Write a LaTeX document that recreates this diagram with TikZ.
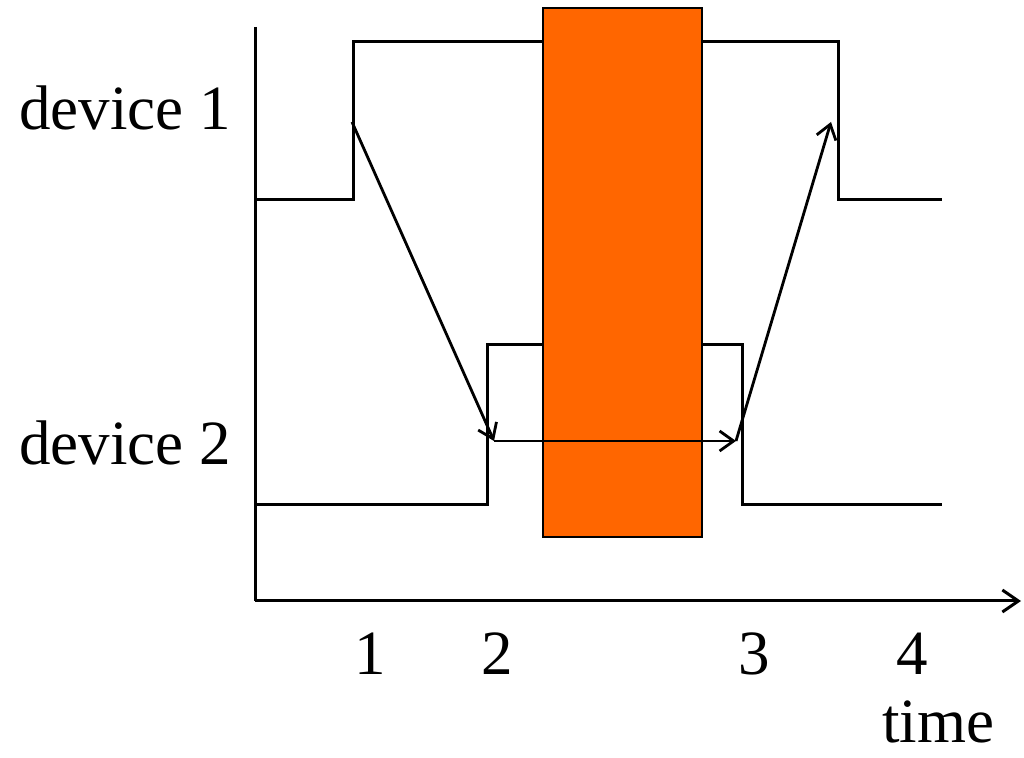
\documentclass[tikz,border=0pt]{standalone}
\usepackage{fontspec}
\setmainfont{Liberation Serif}
\usetikzlibrary{arrows.meta}
\definecolor{busyorange}{RGB}{255,102,0}
\tikzset{
  signal/.style={line width=1.5pt},
  axis/.style={line width=1.5pt, -{Straight Barb[length=8pt, width=11pt, line width=1.5pt]}},
  msg/.style={line width=1.4pt, -{Straight Barb[length=7pt, width=10pt, line width=1.4pt]}},
  busy/.style={draw, line width=1pt, fill=busyorange},
  lbl/.style={anchor=base, inner sep=0pt, font=\fontsize{31.5}{36}\selectfont},
}

\begin{document}
\begin{tikzpicture}[x=0.5pt, y=-0.5pt]
  \useasboundingbox (0,0) rectangle (1024,758);
  % axes
  \coordinate (origin) at (255,601);
  \coordinate (ytop) at (255,27);
  \coordinate (xend) at (1021,601);
  \draw[signal] (ytop) -- (origin);
  \draw[axis] (origin) -- (xend);
  % signals
  \draw[signal] (255,200) -- (353,200) -- (353,42) -- (838,42) -- (838,200) -- (942,200);
  \draw[signal] (255,505) -- (487,505) -- (487,345) -- (742,345) -- (742,505) -- (942,505);
  % blocked interval
  \node[busy, minimum width=79.5pt, minimum height=264.5pt, inner sep=0pt] (block) at (622.5,272.5) {};
  % messages
  \coordinate (send) at (352,122);
  \coordinate (recv) at (494,441);
  \coordinate (reply) at (736,441);
  \coordinate (ack) at (831,122);
  \draw[msg] (send) -- (recv);
  \draw[msg] (recv) -- (reply);
  \draw[msg] (reply) -- (ack);
  % labels
  \node[lbl] (dev1) at (125,130) {device 1};
  \node[lbl] (dev2) at (125,465) {device 2};
  \node[lbl] (t1) at (370,675) {1};
  \node[lbl] (t2) at (497,675) {2};
  \node[lbl] (t3) at (754,675) {3};
  \node[lbl] (t4) at (912,675) {4};
  \node[lbl] (time) at (938,743) {time};
\end{tikzpicture}
\end{document}
